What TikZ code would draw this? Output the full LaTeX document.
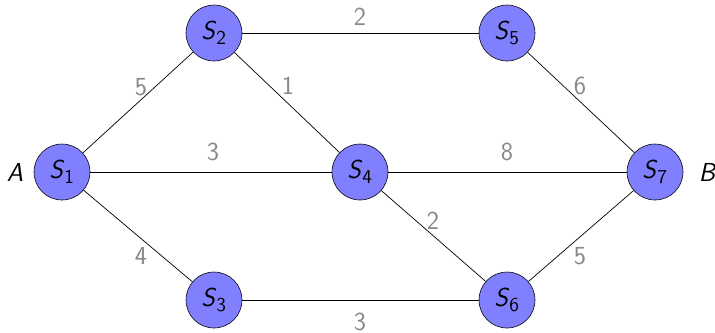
\documentclass[tikz,border=0pt]{standalone}
\usepackage{tikz}
\newcommand\Sn[1]{\textit{S}\textsubscript{\fontsize{14}{16}\selectfont#1}}
\tikzset{
  st/.style={circle, draw=black, fill={rgb,255:red,128;green,128;blue,255}, minimum size=1.4cm, inner sep=0pt, font=\fontsize{18.5}{22}\selectfont\sffamily},
  lab/.style={text={rgb,255:red,136;green,136;blue,136}, font=\fontsize{18.5}{22}\selectfont\sffamily, inner sep=1pt},
  ends/.style={font=\fontsize{18.5}{22}\selectfont\sffamily\itshape},
  ed/.style={draw=black, line width=0.5pt}
}
\begin{document}
\begin{tikzpicture}[x=0.025cm, y=-0.025cm]
\useasboundingbox (0,0) rectangle (715,332);
\node[st] (s1) at (62,172) {\Sn{1}};
\node[st] (s2) at (214,33) {\Sn{2}};
\node[st] (s3) at (214,300) {\Sn{3}};
\node[st] (s4) at (360,172) {\Sn{4}};
\node[st] (s5) at (507,33) {\Sn{5}};
\node[st] (s6) at (507,300) {\Sn{6}};
\node[st] (s7) at (655,172) {\Sn{7}};
\node[ends] (a) at (15,172) {A};
\node[ends] (b) at (707,172) {B};
\draw[ed] (s1) -- (s2);
\draw[ed] (s1) -- (s4);
\draw[ed] (s1) -- (s3);
\draw[ed] (s2) -- (s5);
\draw[ed] (s2) -- (s4);
\draw[ed] (s4) -- (s7);
\draw[ed] (s4) -- (s6);
\draw[ed] (s3) -- (s6);
\draw[ed] (s5) -- (s7);
\draw[ed] (s6) -- (s7);
\node[lab] (l12) at (141,87) {5};
\node[lab] (l25) at (360,17) {2};
\node[lab] (l24) at (288,86) {1};
\node[lab] (l14) at (213,152) {3};
\node[lab] (l47) at (507,152) {8};
\node[lab] (l57) at (580,86) {6};
\node[lab] (l13) at (141,256) {4};
\node[lab] (l46) at (433,221) {2};
\node[lab] (l67) at (580,256) {5};
\node[lab] (l36) at (360,322) {3};
\end{tikzpicture}
\end{document}
